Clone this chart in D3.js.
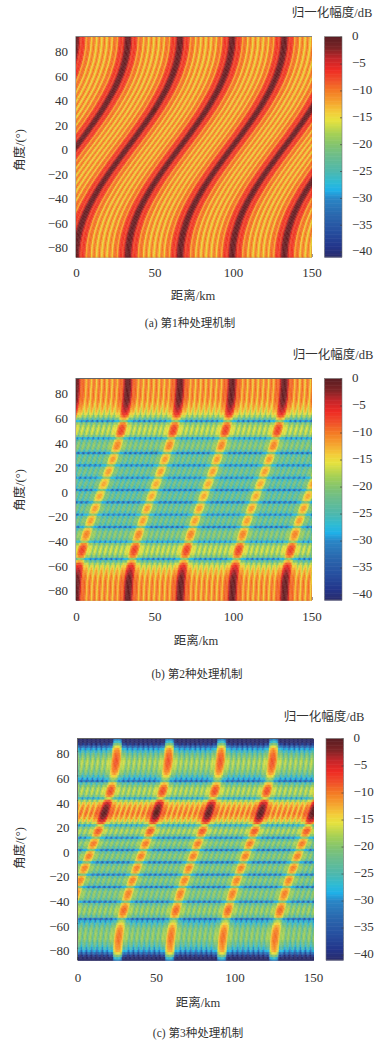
<!DOCTYPE html>
<html><head><meta charset="utf-8">
<style>
html,body{margin:0;padding:0;background:#fff;width:380px;height:1045px;overflow:hidden}
#wrap{position:relative;width:380px;height:1045px}
canvas{position:absolute;filter:blur(0.5px)}
svg{position:absolute;left:0;top:0}
text{fill:#333;font-family:"Liberation Serif","Noto Sans CJK SC",serif}
</style>
<script src="https://cdn.jsdelivr.net/npm/d3@7"></script>
</head><body><div id="wrap"></div>
<script>
// Angle rows, -90 .. 90 deg
const angles=[-90,-88,-86,-84,-82,-80,-78,-76,-74,-72,-70,-68,-66,-64,-62,-60,-58,-56,-54,-52,-50,-48,-46,-44,-42,-40,-38,-36,-34,-32,-30,-28,-26,-24,-22,-20,-18,-16,-14,-12,-10,-8,-6,-4,-2,0,2,4,6,8,10,12,14,16,18,20,22,24,26,28,30,32,34,36,38,40,42,44,46,48,50,52,54,56,58,60,62,64,66,68,70,72,74,76,78,80,82,84,86,88,90];
// Ridge position (km) read per angle row
const ridgeA=[-33.2,-33.2,-33.1,-33.0,-32.9,-32.7,-32.5,-32.2,-31.9,-31.6,-31.2,-30.8,-30.3,-29.8,-29.3,-28.8,-28.2,-27.5,-26.9,-26.2,-25.4,-24.7,-23.9,-23.1,-22.2,-21.3,-20.4,-19.5,-18.6,-17.6,-16.6,-15.6,-14.6,-13.5,-12.4,-11.4,-10.3,-9.1,-8.0,-6.9,-5.8,-4.6,-3.5,-2.3,-1.2,0,1.2,2.3,3.5,4.6,5.8,6.9,8.0,9.1,10.3,11.4,12.4,13.5,14.6,15.6,16.6,17.6,18.6,19.5,20.4,21.3,22.2,23.1,23.9,24.7,25.4,26.2,26.9,27.5,28.2,28.8,29.3,29.8,30.3,30.8,31.2,31.6,31.9,32.2,32.5,32.7,32.9,33.0,33.1,33.2,33.2];
const ridgeB=[0,0,0.1,0.2,0.3,0.3,0.4,0.5,0.6,0.8,1.0,1.2,1.4,1.7,1.9,2.2,2.5,2.8,3.2,3.5,3.9,4.3,4.7,5.1,5.5,5.9,6.4,6.8,7.3,7.8,8.3,8.8,9.3,9.8,10.4,10.9,11.5,12.0,12.6,13.1,13.7,14.3,14.9,15.4,16.0,16.6,17.2,17.7,18.3,18.9,19.5,20.0,20.6,21.2,21.7,22.3,22.8,23.4,23.9,24.4,24.9,25.4,25.9,26.4,26.8,27.3,27.7,28.1,28.5,28.9,29.3,29.7,30.0,30.4,30.7,31.0,31.3,31.5,31.8,32.0,32.2,32.4,32.6,32.7,32.8,32.9,33.0,33.1,33.2,33.2,33.2];
const ridgeC=[-8,-8,-7.9,-7.8,-7.7,-7.7,-7.6,-7.5,-7.4,-7.2,-7.0,-6.8,-6.6,-6.3,-6.1,-5.8,-5.5,-5.2,-4.8,-4.5,-4.1,-3.7,-3.3,-2.9,-2.5,-2.1,-1.6,-1.2,-0.7,-0.2,0.3,0.8,1.3,1.8,2.4,2.9,3.5,4.0,4.6,5.1,5.7,6.3,6.9,7.4,8.0,8.6,9.2,9.7,10.3,10.9,11.5,12.0,12.6,13.2,13.7,14.3,14.8,15.4,15.9,16.4,16.9,17.4,17.9,18.4,18.8,19.3,19.7,20.1,20.5,20.9,21.3,21.7,22.0,22.4,22.7,23.0,23.3,23.5,23.8,24.0,24.2,24.4,24.6,24.7,24.8,24.9,25.0,25.1,25.2,25.2,25.2];
// Level of each angle row (dB)
const rowA=[0,0,0,0,0,0,0,0,0,0,0,0,0,0,0,0,0,0,0,0,0,0,0,0,0,0,0,0,0,0,0,0,0,0,0,0,0,0,0,0,0,0,0,0,0,0,0,0,0,0,0,0,0,0,0,0,0,0,0,0,0,0,0,0,0,0,0,0,0,0,0,0,0,0,0,0,0,0,0,0,0,0,0,0,0,0,0,0,0,0,0];
const rowB=[-0.5,-0.5,-0.5,-0.5,-0.5,-0.5,-0.5,-0.5,-0.7,-1,-1.5,-2.2,-3,-4,-5.5,-8,-12,-19,-10,-8,-7,-7,-7.5,-10,-18,-12,-10.5,-10,-10.5,-13,-20,-13,-11.5,-11.5,-13,-19,-13,-11.5,-11.5,-13,-20,-13.5,-12,-12,-13.5,-20,-13.5,-12,-12,-13.5,-19,-13,-11.5,-11.5,-13,-19,-13,-11.5,-11.5,-13,-20,-13,-10.5,-10,-10.5,-12,-18,-10,-7.5,-7,-7,-8,-10,-19,-12,-8,-5.5,-4,-3,-2.2,-1.5,-1,-0.7,-0.5,-0.5,-0.5,-0.5,-0.5,-0.5,-0.5,-0.5];
const rowC=[-30,-26,-20,-15,-12,-11,-10.5,-10,-9.5,-9.5,-9.5,-9.5,-10,-10.5,-12,-14,-17,-21,-12,-10,-9,-9,-10,-12,-20,-12,-10.5,-10,-10,-12,-20,-12,-10.5,-10,-12,-20,-12,-10.5,-10,-12,-20,-12,-10,-10,-12,-20,-12,-10,-9.5,-12,-19,-11,-8.5,-8,-10.5,-16,-8,-4,-2,-0.6,0,-0.3,-1,-2,-4,-8,-16,-10,-8,-7.5,-8,-10,-13,-21,-18,-14,-11.5,-10,-9,-8.5,-8,-8,-8,-8.5,-9,-10,-11.5,-15,-20,-26,-30];
// Extra drop of the sidelobes in each angle row (dB)
const sideC=[-9,-9,-9,-8,-7,-5,-3,-2,-1,0,0,0,0,0,0,0,0,0,0,0,0,0,0,0,0,0,0,0,0,0,0,0,0,0,0,0,0,0,0,0,0,0,0,0,0,0,0,0,0,0,0,0,0,0,0,0,0,0,0,0,0,0,0,0,0,0,0,0,0,0,0,0,0,0,0,0,0,0,0,0,0,0,-1,-2,-3,-5,-7,-8,-9,-9,-9];
// Level across one ridge period (dB), 40 bins
const phaseA=[-0.5,-0.8,-2.2,-5,-8,-6.5,-6.5,-8,-12.5,-10,-9,-10,-14.5,-11.5,-9.5,-11.5,-15,-12,-9.5,-12,-15,-12,-9.5,-12,-15,-11.5,-9.5,-11.5,-14.5,-10,-9,-10,-12.5,-8,-6.5,-6.5,-8,-5,-2.2,-0.8];
const phaseBC=[0,-0.4,-1.6,-4,-8.5,-9,-8,-9.5,-13,-10.5,-8.5,-10.5,-14,-10.5,-8.5,-10.5,-14,-10.5,-8.5,-10.5,-14,-10.5,-8.5,-10.5,-14,-10.5,-8.5,-10.5,-14,-10.5,-8.5,-10.5,-13,-9.5,-8,-9,-8.5,-4,-1.6,-0.4];
const periodKm=33.2;
const periodIndex=[-2,-1,0,1,2,3,4,5,6];
// Colour bar
const colorStops=[0,-2,-4,-6,-8,-10,-12,-14,-15.5,-18,-20,-22,-25,-27,-28.5,-30,-33,-36,-39,-41];
const colorValues=["#5b1d22","#7d2426","#c5262a","#ee2a24","#f0502a","#f47b25","#f5a22e","#f3cd3a","#e6e23f","#a5d055","#84c46e","#6dbd8a","#4db8ae","#2ebbd4","#1fb0e8","#2a86c6","#2a68ae","#2750a0","#23358a","#2b2c6a"];
const barTicks=[0,-5,-10,-15,-20,-25,-30,-35,-40];
const xTicks=[0,50,100,150];
const yTicks=[-80,-60,-40,-20,0,20,40,60,80];
const targetKm=[50], targetDeg=[30];
const unitLabel="归一化幅度/dB", xLabel="距离/km", yLabel="角度/(°)";
const captions=["(a) 第1种处理机制","(b) 第2种处理机制","(c) 第3种处理机制"];
const markerColors=["#4fb04f","#b83a3a","#4fc04f"];

const panels=[
 {ridge:ridgeA,row:rowA,phase:phaseA,x0:76,x1:311.5,y0:36.7,y1:257,bx:324.5,tx:332,ty:17,xl:193,xly:300,yl:150,cx:190,cy:327,xty:277},
 {ridge:ridgeB,row:rowB,phase:phaseBC,x0:76,x1:311.5,y0:378.5,y1:600,bx:324.5,tx:333,ty:359,xl:196,xly:645,yl:490,cx:197,cy:678,xty:621},
 {ridge:ridgeC,row:rowC,side:sideC,phase:phaseBC,x0:77.5,x1:313,y0:738.5,y1:960,bx:326,tx:324,ty:721,xl:198,xly:1007,yl:848,cx:198,cy:1037,xty:982}
];
const wrap=d3.select("#wrap");
const svg=wrap.append("svg").attr("width",380).attr("height",1045);
const color=d3.scaleLinear().domain(colorStops).range(colorValues).clamp(true);

panels.forEach((p,pi)=>{
  const x=d3.scaleLinear().domain([0,150]).range([p.x0,p.x1]);
  const y=d3.scaleLinear().domain([-90,90]).range([p.y1,p.y0]);
  const w=Math.ceil(p.x1-p.x0), h=Math.ceil(p.y1-p.y0);
  const cv=wrap.append("canvas").attr("width",w).attr("height",h)
    .style("left",p.x0+"px").style("top",p.y0+"px").node();
  const g=cv.getContext("2d");
  g.translate(-p.x0,-p.y0);
  const n=p.phase.length, bin=periodKm/n;
  angles.forEach((a,i)=>{
    const lo=Math.max(0,i-1), hi=Math.min(angles.length-1,i+1);
    const aLo=(angles[lo]+a)/2, aHi=(angles[hi]+a)/2;
    const sLo=(p.ridge[lo]+p.ridge[i])/2, sHi=(p.ridge[hi]+p.ridge[i])/2;
    periodIndex.forEach(k=>{
      p.phase.forEach((db,j)=>{
        const c=k*periodKm+j*bin;
        const isSide=j>3&&j<n-3;
        const v=p.row[i]+db+(p.side&&isSide?p.side[i]:0);
        g.fillStyle=g.strokeStyle=color(v);
        g.beginPath();
        g.moveTo(x(c-bin/2+sLo),y(aLo));
        g.lineTo(x(c+bin/2+sLo),y(aLo));
        g.lineTo(x(c+bin/2+sHi),y(aHi));
        g.lineTo(x(c-bin/2+sHi),y(aHi));
        g.closePath();
        g.fill();g.lineWidth=0.4;g.stroke();
      });
    });
  });
  // Frame and axes
  const G=svg.append("g");
  G.append("rect").attr("x",p.x0).attr("y",p.y0).attr("width",p.x1-p.x0).attr("height",p.y1-p.y0)
    .attr("fill","none").attr("stroke","#666").attr("stroke-width",1);
  const ax=G.append("g").attr("transform",`translate(0,${p.y1})`)
    .call(d3.axisBottom(x).tickValues(xTicks).tickSize(-3).tickFormat(d3.format("d")));
  ax.select(".domain").remove();
  ax.selectAll("line").attr("stroke","#333");
  ax.selectAll("text").attr("y",p.xty-p.y1).attr("dy",0).attr("font-size",13);
  const ay=G.append("g").attr("transform",`translate(${p.x0},0)`)
    .call(d3.axisLeft(y).tickValues(yTicks).tickSize(-3).tickFormat(d3.format("d")));
  ay.select(".domain").remove();
  ay.selectAll("line").attr("stroke","#333");
  ay.selectAll("text").attr("x",-8).attr("dy","0.54em").attr("font-size",13);
  // Target
  G.selectAll("path.t").data(targetKm).join("path").attr("class","t")
    .attr("d",d3.symbol(d3.symbolStar,22))
    .attr("transform",(d,i)=>`translate(${x(d)},${y(targetDeg[i])})`)
    .attr("fill",markerColors[pi]);
  // Labels
  G.append("text").attr("x",p.xl).attr("y",p.xly).attr("text-anchor","middle").attr("font-size",12.5).text(xLabel);
  G.append("text").attr("transform",`translate(24,${p.yl}) rotate(-90)`).attr("text-anchor","middle").attr("font-size",12.5).text(yLabel);
  G.append("text").attr("x",p.cx).attr("y",p.cy).attr("text-anchor","middle").attr("font-size",11.5).text(captions[pi]);
  G.append("text").attr("x",p.tx).attr("y",p.ty).attr("text-anchor","middle").attr("font-size",12.5).text(unitLabel);
  // Colour bar
  const by=d3.scaleLinear().domain([0,-41]).range([p.y0,p.y1]);
  const bw=17.5;
  const cells=d3.range(0,-41,-0.25);
  G.selectAll("rect.c").data(cells).join("rect").attr("class","c")
    .attr("x",p.bx).attr("width",bw).attr("y",d=>by(d)).attr("height",by(0)-by(0.3)+0.3)
    .attr("fill",d=>color(d));
  G.append("rect").attr("x",p.bx).attr("y",p.y0).attr("width",bw).attr("height",p.y1-p.y0)
    .attr("fill","none").attr("stroke","#777").attr("stroke-width",0.6);
  const ab=G.append("g").attr("transform",`translate(${p.bx+bw},0)`)
    .call(d3.axisRight(by).tickValues(barTicks).tickSize(-2).tickFormat(d3.format("d")));
  ab.select(".domain").remove();
  ab.selectAll("line").attr("stroke","#444").attr("stroke-width",0.7);
  ab.selectAll("text").attr("x",10).attr("text-anchor","start").attr("dy","0.25em").attr("font-size",13);
});
</script></body></html>
